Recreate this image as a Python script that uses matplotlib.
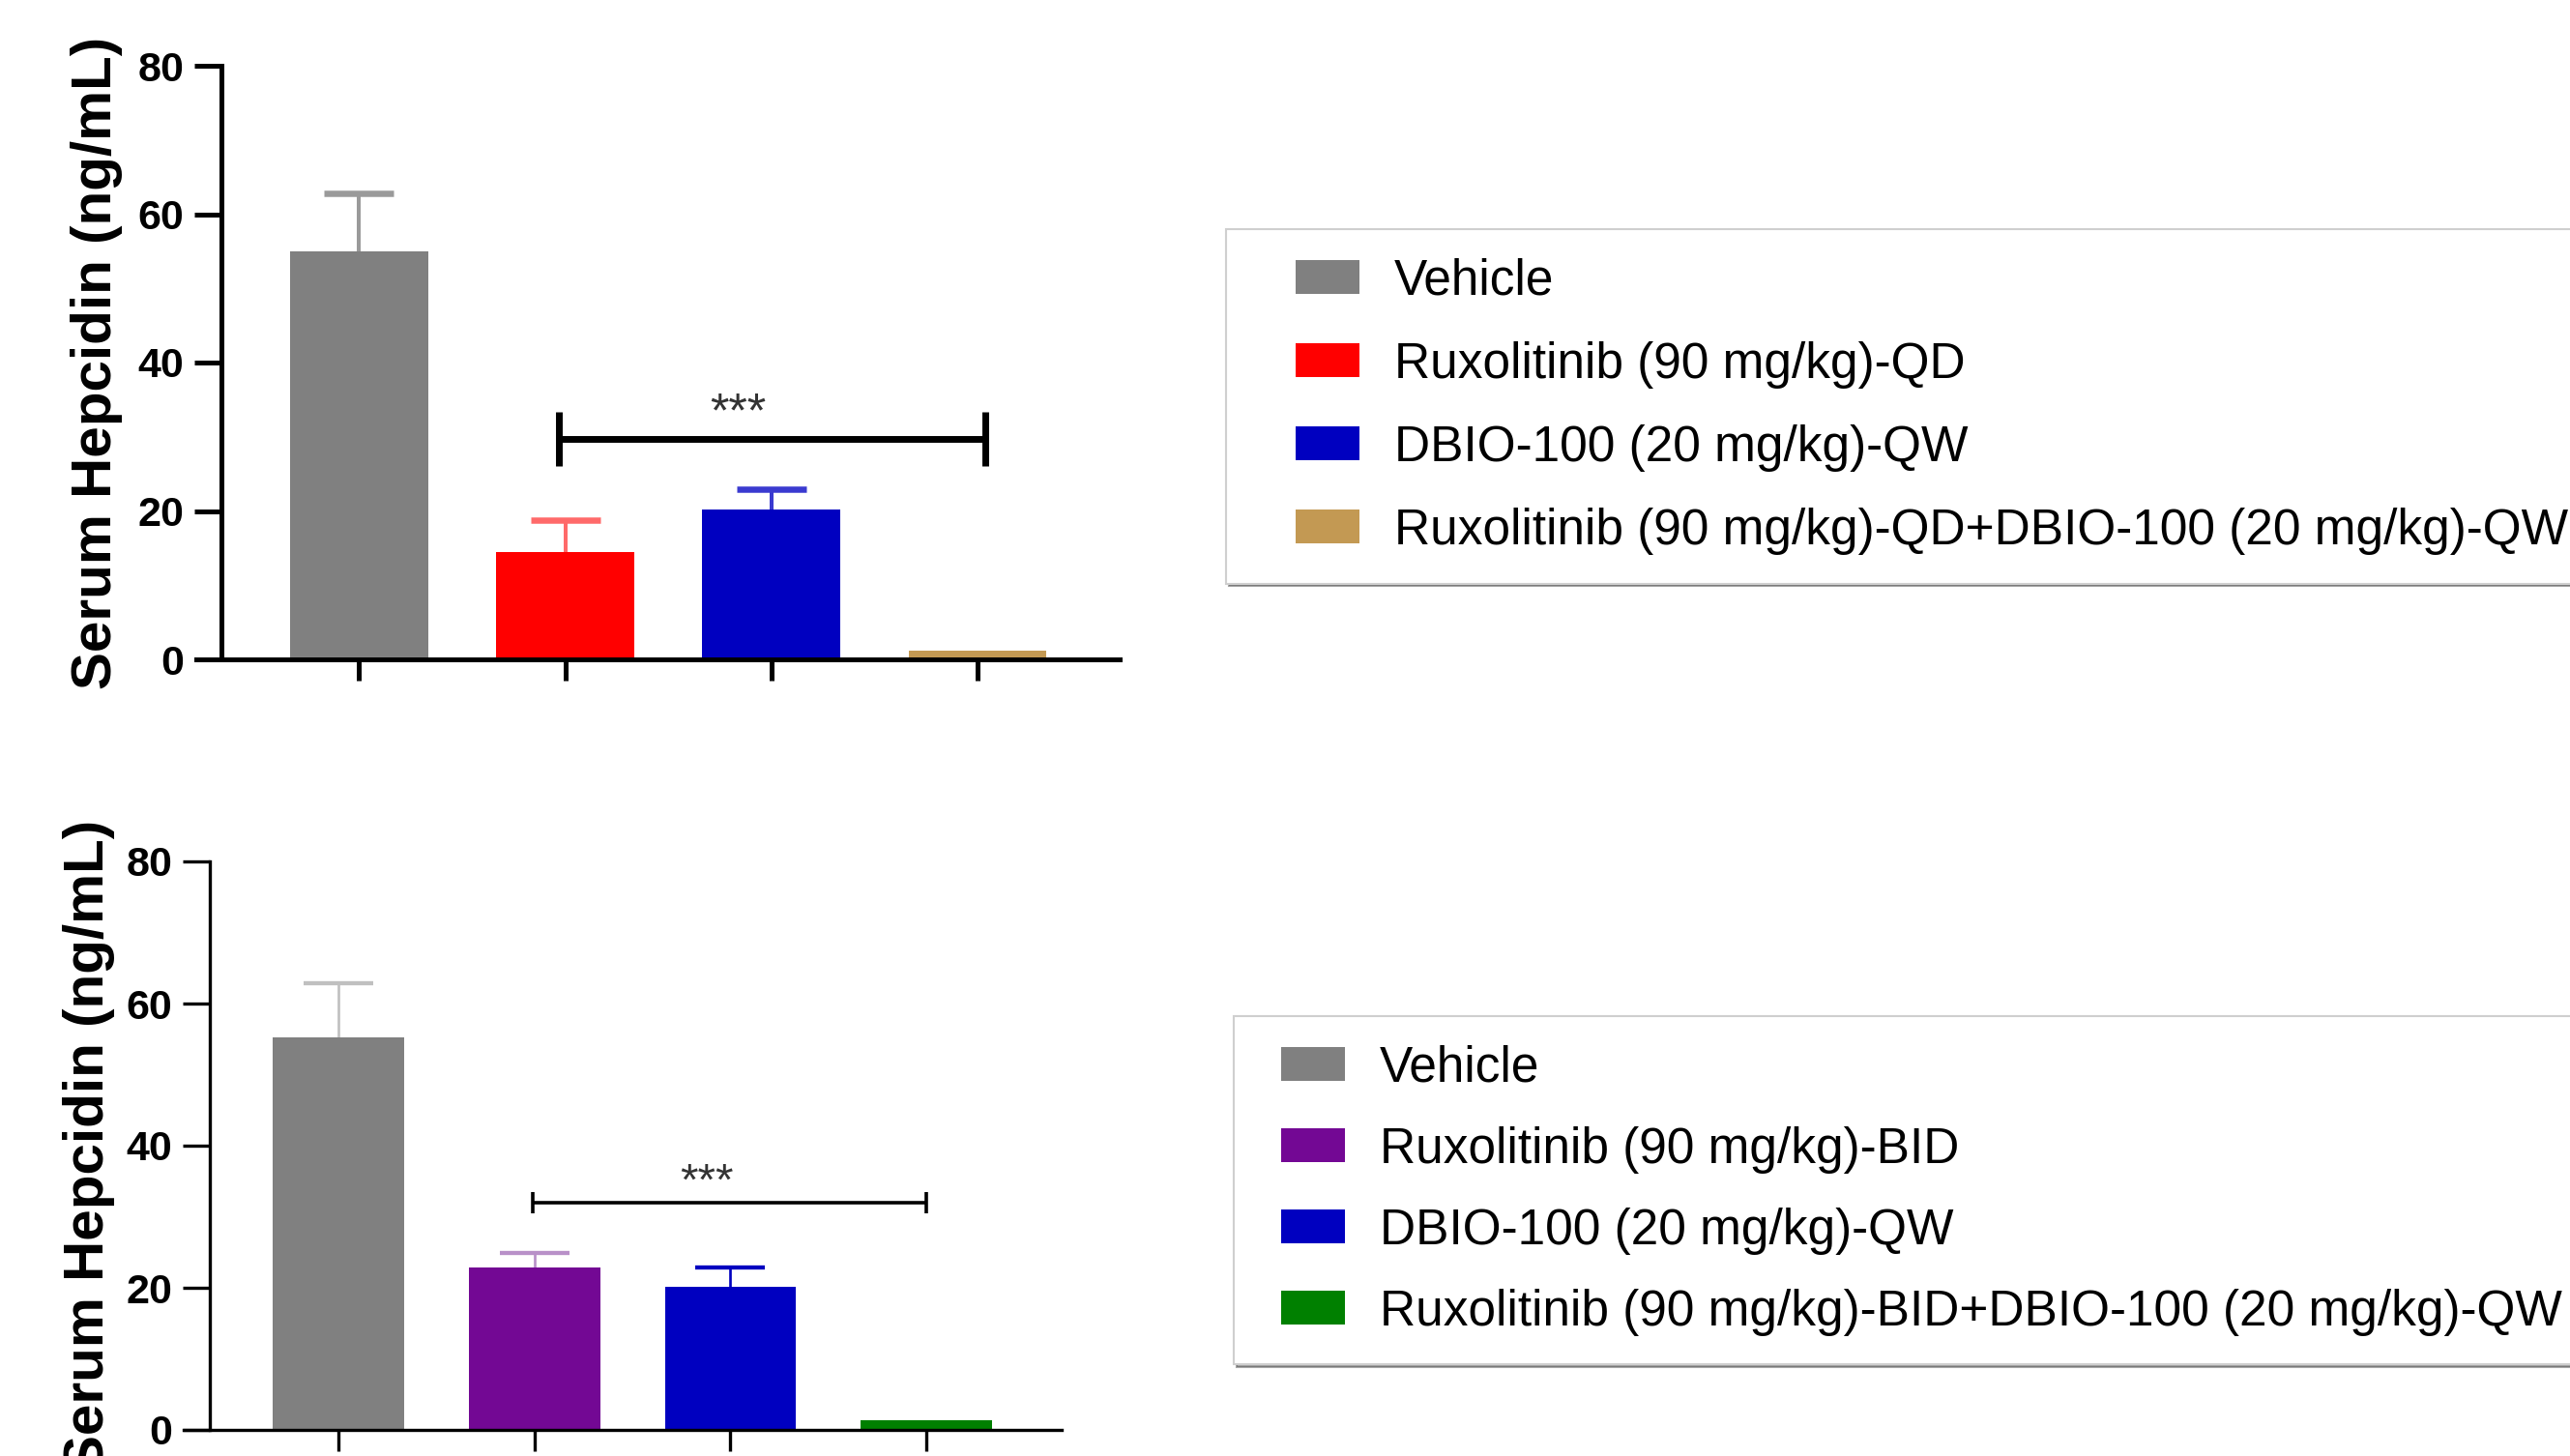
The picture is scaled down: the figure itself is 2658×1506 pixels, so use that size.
import numpy as np
import matplotlib
matplotlib.use('Agg')
import matplotlib.pyplot as plt
import matplotlib.patches as mpatches
from matplotlib.legend_handler import HandlerPatch

plt.rcParams['font.family'] = ['Liberation Sans', 'DejaVu Sans']

# DATA
groups_top = ['Vehicle', 'Ruxolitinib (90 mg/kg)-QD', 'DBIO-100 (20 mg/kg)-QW',
              'Ruxolitinib (90 mg/kg)-QD+DBIO-100 (20 mg/kg)-QW']
mean_top = [55.0, 14.4, 20.2, 1.2]
err_top = [7.8, 4.4, 2.7, 0.0]

groups_bot = ['Vehicle', 'Ruxolitinib (90 mg/kg)-BID', 'DBIO-100 (20 mg/kg)-QW',
              'Ruxolitinib (90 mg/kg)-BID+DBIO-100 (20 mg/kg)-QW']
mean_bot = [55.3, 22.8, 20.1, 1.3]
err_bot = [7.5, 2.1, 2.8, 0.0]

yticks = [0, 20, 40, 60, 80]
ylabel = 'Serum Hepcidin (ng/mL)'

# significance brackets: (x1, x2, y, half height)
sig_top = (0.97, 3.04, 29.7, 3.6)
sig_bot = (0.99, 3.00, 32.0, 1.5)

# STYLE
col_top = ['#808080', '#ff0000', '#0000c0', '#c39953']
stem_top = ['#9a9a9a', '#ff6a6a', '#3a3ad0', '#c39953']
cap_top = ['#9a9a9a', '#ff8c8c', '#5a5ae0', '#c39953']

col_bot = ['#808080', '#730894', '#0000c0', '#008000']
stem_bot = ['#c0c0c0', '#b890c8', '#0000c0', '#008000']
cap_bot = ['#b4b4b4', '#730894', '#8a8ae6', '#008000']

W, H = 2658, 1506
fig = plt.figure(figsize=(W / 100, H / 100), dpi=100)
fig.patch.set_facecolor('white')


def panel(rect, means, errs, cols, stems, caps, sig, spine_x, lw, star_xy, star_fs, sig_lw):
    ax = fig.add_axes(rect)
    x = np.arange(len(means))
    bars = ax.bar(x, means, width=0.67, color=cols, zorder=2)
    for i in range(len(means)):
        if errs[i] <= 0:
            continue
        eb = ax.errorbar(x[i], means[i], yerr=[[0], [errs[i]]], fmt='none',
                         ecolor=stems[i], elinewidth=lw * 0.8, capsize=26,
                         capthick=lw * 1.3, zorder=1)
        eb[1][0].set_visible(False)
        eb[1][1].set_color(caps[i])
    ax.set_xlim(-0.79, 3.69)
    ax.set_ylim(0, 80)
    ax.set_yticks(yticks)
    ax.set_xticks(x)
    ax.set_xticklabels([])
    for s in ['top', 'right']:
        ax.spines[s].set_visible(False)
    ax.spines['left'].set_position(('data', spine_x))
    ax.spines['left'].set_linewidth(lw)
    ax.spines['bottom'].set_linewidth(lw)
    ax.tick_params(axis='y', length=20, width=lw, labelsize=31, pad=8)
    ax.tick_params(axis='x', length=16, width=lw)
    for t in ax.get_yticklabels():
        t.set_fontweight('bold')
    ax.set_ylabel(ylabel, fontsize=42, fontweight='bold')
    # significance bracket
    x1, x2, y, h = sig
    ax.plot([x1, x2], [y, y], color='black', lw=sig_lw, solid_capstyle='butt')
    ax.plot([x1, x1], [y - h, y + h], color='black', lw=sig_lw, solid_capstyle='butt')
    ax.plot([x2, x2], [y - h, y + h], color='black', lw=sig_lw, solid_capstyle='butt')
    ax.text(star_xy[0], star_xy[1], '***', ha='center', va='center',
            fontsize=star_fs, color='#333333')
    return ax, bars


ax1, bars1 = panel([203 / W, 1 - 682 / H, (1158 - 203) / W, (682 - 68) / H],
                   mean_top, err_top, col_top, stem_top, cap_top, sig_top,
                   -0.667, 3.6, (1.84, 33.0), 36, 5)
ax1.yaxis.set_label_coords(-0.08, 0.5)

ax2, bars2 = panel([190 / W, 1 - 1479 / H, (1098 - 190) / W, (1479 - 891) / H],
                   mean_bot, err_bot, col_bot, stem_bot, cap_bot, sig_bot,
                   -0.655, 2.4, (1.88, 34.8), 34, 2.6)
ax2.yaxis.set_label_coords(-0.078, 0.5)


# legend swatch sits at the right end of a wider handle box
def swatch(legend, orig_handle, xdescent, ydescent, width, height, fontsize):
    w = 1.28 * fontsize
    return mpatches.Rectangle((-xdescent + width - w, -ydescent), w, height)


leg_kw = dict(loc='upper left', fontsize=37, frameon=True, fancybox=False,
              shadow=True, handleheight=0.67, handletextpad=0.7,
              borderpad=0.58, borderaxespad=0, edgecolor='#cfcfcf',
              handler_map={mpatches.Rectangle: HandlerPatch(patch_func=swatch)})
leg1 = fig.legend(list(bars1), groups_top, bbox_to_anchor=(1268 / W, 1 - 237 / H),
                  handlelength=2.1, labelspacing=0.72, **leg_kw)
leg2 = fig.legend(list(bars2), groups_bot, bbox_to_anchor=(1276 / W, 1 - 1051 / H),
                  handlelength=1.65, labelspacing=0.68, **leg_kw)
for leg in (leg1, leg2):
    leg.get_frame().set_linewidth(1.5)

plt.savefig('out.png', dpi=100)
